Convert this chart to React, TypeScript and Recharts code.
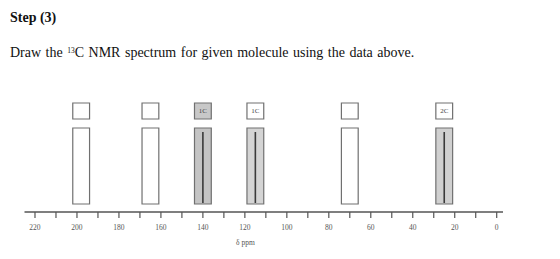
import { ComposedChart, XAxis, YAxis, ReferenceArea, ReferenceLine, Scatter } from 'recharts';

// peak positions (ppm)
const peakPpm = [198, 165, 140, 115, 70, 25];
const peakLabels = ['', '', '1C', '1C', '', '2C'];
const peakHasLine = [false, false, true, true, false, true];
const axisTicks = [0, 10, 20, 30, 40, 50, 60, 70, 80, 90, 100, 110, 120, 130, 140, 150, 160, 170, 180, 190, 200, 210, 220];

// box geometry in y units (y axis 0..112)
const BAR_LOW = 8;
const BAR_HIGH = 84;
const BOX_LOW = 93;
const BOX_HIGH = 109;
const LINE_LOW = 9;
const LINE_HIGH = 80;
const HALF_W = 4;

const barFill = ['#ffffff', '#ffffff', '#c4c4c4', '#d4d4d4', '#ffffff', '#d0d0d0'];
const boxFill = ['#ffffff', '#ffffff', '#c8c8c8', '#ffffff', '#ffffff', '#ffffff'];
const EDGE = '#707070';
const FONT = '"Liberation Serif", "Times New Roman", serif';

const peaks = peakPpm.map((ppm, i) => ({ ppm, y: BAR_HIGH, label: peakLabels[i], line: peakHasLine[i] }));

export default function App() {
  return (
    <div style={{ position: 'absolute', left: 0, top: 0, width: 560, height: 259, background: '#fff', fontFamily: FONT }}>
      <div style={{ position: 'absolute', left: 10, top: 10, fontSize: 14, fontWeight: 'bold', color: '#111' }}>Step (3)</div>
      <div style={{ position: 'absolute', left: 10, top: 45, fontSize: 14, color: '#111', whiteSpace: 'nowrap', wordSpacing: 1 }}>
        Draw the <sup style={{ fontSize: 7.5, verticalAlign: 4, lineHeight: 0 }}>13</sup>C NMR spectrum for given molecule using the data above.
      </div>

      <div style={{ position: 'absolute', left: 0, top: 0 }}>
        <ComposedChart
          width={560}
          height={259}
          data={peaks}
          margin={{ top: 100, right: 57, bottom: 17, left: 24.5 }}
          style={{ fontFamily: FONT }}
        >
          <XAxis
            type="number"
            dataKey="ppm"
            domain={[-3, 225]}
            reversed
            ticks={axisTicks}
            interval={0}
            tickFormatter={(v: number) => (v % 20 === 0 ? String(v) : '')}
            tick={{ fontSize: 7.5, fill: '#555', fontFamily: FONT }}
            tickSize={6}
            tickMargin={7}
            tickLine={{ stroke: '#555', strokeWidth: 1.2 }}
            axisLine={{ stroke: '#555', strokeWidth: 1.3 }}
            height={30}
            allowDataOverflow
          />
          <YAxis type="number" domain={[0, 112]} hide allowDataOverflow />

          {peaks.map((p, i) => (
            <ReferenceArea
              key={`bar-${i}`}
              x1={p.ppm + HALF_W}
              x2={p.ppm - HALF_W}
              y1={BAR_LOW}
              y2={BAR_HIGH}
              fill={barFill[i]}
              fillOpacity={1}
              stroke={EDGE}
              strokeWidth={1.2}
            />
          ))}
          {peaks.map((p, i) => (
            <ReferenceArea
              key={`box-${i}`}
              x1={p.ppm + HALF_W}
              x2={p.ppm - HALF_W}
              y1={BOX_LOW}
              y2={BOX_HIGH}
              fill={boxFill[i]}
              fillOpacity={1}
              stroke={EDGE}
              strokeWidth={1.2}
              label={p.label ? { value: p.label, position: 'center', fontSize: 7, fill: '#444', fontFamily: FONT } : undefined}
            />
          ))}
          {peaks
            .filter((p) => p.line)
            .map((p) => (
              <ReferenceLine
                key={`line-${p.ppm}`}
                segment={[
                  { x: p.ppm, y: LINE_LOW },
                  { x: p.ppm, y: LINE_HIGH },
                ]}
                stroke="#3a3a3a"
                strokeWidth={1.6}
              />
            ))}
          <Scatter dataKey="y" shape={() => <g />} isAnimationActive={false} />
        </ComposedChart>
      </div>

      <div style={{ position: 'absolute', left: 236, top: 238, fontSize: 7.5, color: '#555' }}>δ ppm</div>
    </div>
  );
}
